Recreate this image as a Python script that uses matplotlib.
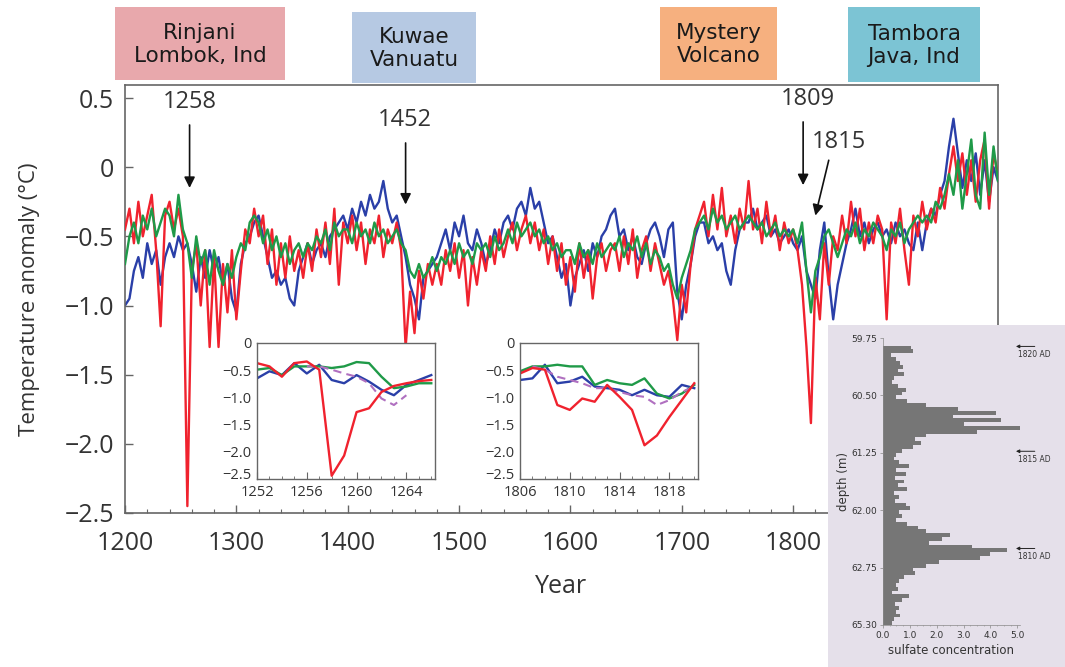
import numpy as np
import matplotlib
matplotlib.use("Agg")
import matplotlib.pyplot as plt
from matplotlib.ticker import MultipleLocator
from matplotlib.patches import Rectangle
from matplotlib.transforms import ScaledTranslation

# ---------------- data ----------------
YEAR_START = 1200
YEAR_STEP = 4

red_vals = [
    -0.45, -0.30, -0.55, -0.25, -0.50, -0.35, -0.20, -0.60, -1.15, -0.35,
    -0.25, -0.45, -0.30, -0.50, -2.45, -0.75, -0.55, -1.00, -0.60, -1.30,
    -0.65, -1.30, -0.70, -1.05, -0.60, -1.10, -0.75, -0.45, -0.55, -0.30,
    -0.50, -0.35, -0.70, -0.45, -0.85, -0.55, -0.80, -0.50, -0.75, -0.60,
    -0.80, -0.55, -0.75, -0.45, -0.65, -0.40, -0.70, -0.30, -0.85, -0.40,
    -0.55, -0.35, -0.60, -0.40, -0.70, -0.45, -0.55, -0.35, -0.65, -0.45,
    -0.55, -0.40, -0.60, -1.30, -0.90, -1.20, -0.75, -0.95, -0.70, -0.85,
    -0.70, -0.85, -0.60, -0.75, -0.55, -0.80, -0.60, -1.00, -0.65, -0.85,
    -0.60, -0.75, -0.50, -0.70, -0.45, -0.65, -0.50, -0.40, -0.60, -0.45,
    -0.35, -0.55, -0.40, -0.60, -0.45, -0.70, -0.50, -0.75, -0.55, -0.85,
    -0.65, -0.90, -0.55, -0.80, -0.60, -0.95, -0.65, -0.55, -0.75, -0.60,
    -0.55, -0.75, -0.50, -0.70, -0.45, -0.80, -0.60, -0.50, -0.75, -0.55,
    -0.70, -0.85, -0.75, -0.95, -1.25, -0.85, -1.05, -0.70, -0.45, -0.35,
    -0.25, -0.50, -0.20, -0.45, -0.15, -0.50, -0.35, -0.55, -0.30, -0.45,
    -0.10, -0.45, -0.30, -0.55, -0.25, -0.50, -0.35, -0.60, -0.40, -0.55,
    -0.45, -0.60, -0.85, -1.30, -1.85, -0.80, -1.10, -0.55, -0.85, -0.50,
    -0.60, -0.35, -0.55, -0.25, -0.50, -0.30, -0.60, -0.40, -0.55, -0.35,
    -0.45, -1.10, -0.40, -0.55, -0.30, -0.60, -0.85, -0.35, -0.50, -0.25,
    -0.45, -0.30, -0.40, -0.15, -0.30, -0.05, 0.15, -0.10, 0.10, -0.20,
    0.05, -0.25, 0.05, 0.20, -0.30, 0.10, -0.05,
]

green_vals = [
    -0.70, -0.50, -0.40, -0.55, -0.35, -0.45, -0.30, -0.50, -0.40, -0.30,
    -0.35, -0.50, -0.20, -0.45, -0.55, -0.80, -0.50, -0.70, -0.60, -0.85,
    -0.60, -0.75, -0.85, -0.70, -0.80, -0.65, -0.55, -0.60, -0.40, -0.35,
    -0.40, -0.55, -0.45, -0.60, -0.50, -0.65, -0.55, -0.70, -0.60, -0.55,
    -0.65, -0.55, -0.60, -0.50, -0.55, -0.45, -0.60, -0.40, -0.50, -0.45,
    -0.45, -0.55, -0.40, -0.50, -0.45, -0.55, -0.40, -0.50, -0.45, -0.55,
    -0.50, -0.45, -0.55, -0.60, -0.75, -0.80, -0.70, -0.80, -0.75, -0.65,
    -0.75, -0.65, -0.70, -0.60, -0.70, -0.55, -0.65, -0.60, -0.70, -0.55,
    -0.60, -0.55, -0.65, -0.50, -0.60, -0.55, -0.45, -0.55, -0.40, -0.50,
    -0.45, -0.40, -0.50, -0.45, -0.55, -0.50, -0.60, -0.55, -0.65, -0.60,
    -0.60, -0.70, -0.55, -0.65, -0.60, -0.70, -0.55, -0.65, -0.60, -0.55,
    -0.60, -0.50, -0.65, -0.55, -0.60, -0.50, -0.65, -0.55, -0.70, -0.60,
    -0.65, -0.75, -0.70, -0.85, -0.95, -0.80, -0.70, -0.60, -0.45, -0.40,
    -0.35, -0.45, -0.30, -0.40, -0.35, -0.45, -0.40, -0.35, -0.45, -0.40,
    -0.35, -0.40, -0.45, -0.40, -0.50, -0.45, -0.40, -0.50, -0.45, -0.50,
    -0.45, -0.55, -0.40, -0.75, -1.05, -0.75, -0.65, -0.50, -0.45, -0.55,
    -0.65, -0.55, -0.45, -0.50, -0.40, -0.55, -0.45, -0.50, -0.40, -0.45,
    -0.50, -0.60, -0.45, -0.50, -0.40, -0.55, -0.45, -0.40, -0.35, -0.40,
    -0.35, -0.40, -0.25, -0.30, -0.20, -0.05, -0.20, 0.05, -0.30, -0.05,
    0.20, -0.20, -0.30, 0.25, -0.20, 0.15, -0.10,
]

blue_vals = [
    -1.00, -0.95, -0.75, -0.65, -0.80, -0.55, -0.70, -0.60, -0.85, -0.65,
    -0.55, -0.65, -0.50, -0.60, -0.55, -0.70, -0.90, -0.65, -0.80, -0.60,
    -0.75, -0.65, -0.85, -0.70, -0.95, -1.05, -0.70, -0.55, -0.50, -0.40,
    -0.35, -0.50, -0.65, -0.80, -0.75, -0.85, -0.80, -0.95, -1.00, -0.75,
    -0.65, -0.55, -0.70, -0.60, -0.55, -0.65, -0.50, -0.45, -0.40, -0.35,
    -0.45, -0.30, -0.40, -0.25, -0.35, -0.20, -0.30, -0.25, -0.10, -0.30,
    -0.40, -0.35, -0.50, -0.65, -0.85, -0.95, -1.10, -0.80, -0.75, -0.70,
    -0.65, -0.55, -0.45, -0.60, -0.40, -0.50, -0.35, -0.55, -0.60, -0.45,
    -0.55, -0.70, -0.60, -0.45, -0.55, -0.40, -0.35, -0.45, -0.30, -0.25,
    -0.35, -0.15, -0.30, -0.25, -0.40, -0.55, -0.50, -0.65, -0.80, -0.70,
    -1.00, -0.80, -0.70, -0.60, -0.75, -0.55, -0.65, -0.50, -0.45, -0.35,
    -0.30, -0.50, -0.45, -0.60, -0.50, -0.65, -0.70, -0.55, -0.45, -0.40,
    -0.50, -0.65, -0.45, -0.40, -0.90, -1.10, -0.85, -0.70, -0.50, -0.40,
    -0.40, -0.55, -0.50, -0.60, -0.55, -0.75, -0.85, -0.60, -0.45, -0.40,
    -0.40, -0.30, -0.45, -0.40, -0.35, -0.50, -0.45, -0.55, -0.50, -0.45,
    -0.55, -0.60, -0.50, -0.75, -0.85, -0.95, -0.60, -0.40, -0.80, -1.10,
    -0.85, -0.70, -0.55, -0.45, -0.30, -0.50, -0.40, -0.55, -0.45, -0.40,
    -0.50, -0.45, -0.55, -0.40, -0.50, -0.45, -0.55, -0.60, -0.40, -0.60,
    -0.40, -0.30, -0.35, -0.20, -0.10, 0.15, 0.35, 0.10, -0.15, 0.05,
    -0.10, 0.10, -0.20, 0.05, -0.25, 0.00, -0.10,
]

x_ticks = [1200, 1300, 1400, 1500, 1600, 1700, 1800]
y_ticks = [0.5, 0, -0.5, -1.0, -1.5, -2.0, -2.5]
y_tick_labels = ["0.5", "0", "\u22120.5", "\u22121.0", "\u22121.5", "\u22122.0", "\u22122.5"]

# event annotations
events = ["1258", "1452", "1809", "1815"]

# volcano labels
volcano_labels = ["Rinjani\nLombok, Ind", "Kuwae\nVanuatu", "Mystery\nVolcano", "Tambora\nJava, Ind"]
volcano_colors = ["#e8a8ac", "#b6c9e3", "#f6b07f", "#7cc4d4"]

# inset 1 (1258 eruption)
inset1_years = [1252, 1253, 1254, 1255, 1256, 1257, 1258, 1259, 1260, 1261, 1262, 1263, 1264, 1265, 1266]
inset1_red = [-0.37, -0.43, -0.62, -0.37, -0.34, -0.49, -2.44, -2.07, -1.27, -1.20, -0.90, -0.79, -0.74, -0.70, -0.68]
inset1_green = [-0.49, -0.46, -0.59, -0.43, -0.43, -0.43, -0.46, -0.43, -0.35, -0.37, -0.62, -0.83, -0.80, -0.74, -0.74]
inset1_blue = [-0.65, -0.52, -0.59, -0.37, -0.56, -0.40, -0.68, -0.74, -0.59, -0.71, -0.86, -0.96, -0.77, -0.68, -0.59]
inset1_dash_years = [1256, 1257, 1258, 1259, 1260, 1261, 1262, 1263, 1264]
inset1_dash = [-0.43, -0.43, -0.49, -0.56, -0.62, -0.74, -1.02, -1.14, -0.96]

# inset 2 (1809 / 1815 eruptions)
inset2_years = [1806, 1807, 1808, 1809, 1810, 1811, 1812, 1813, 1814, 1815, 1816, 1817, 1818, 1819, 1820]
inset2_red = [-0.56, -0.46, -0.49, -1.14, -1.23, -1.02, -1.08, -0.77, -0.99, -1.23, -1.88, -1.70, -1.36, -1.05, -0.74]
inset2_green = [-0.52, -0.43, -0.43, -0.40, -0.43, -0.43, -0.77, -0.68, -0.74, -0.77, -0.65, -0.93, -1.02, -0.93, -0.77]
inset2_blue = [-0.68, -0.65, -0.40, -0.74, -0.71, -0.62, -0.80, -0.83, -0.86, -0.96, -0.86, -0.96, -0.99, -0.77, -0.83]
inset2_dash_years = [1807, 1808, 1809, 1810, 1811, 1812, 1813, 1814, 1815, 1816, 1817, 1818, 1819, 1820]
inset2_dash = [-0.43, -0.49, -0.62, -0.68, -0.74, -0.83, -0.83, -0.90, -0.96, -0.99, -1.14, -1.05, -0.90, -0.80]

inset_y_ticks = [0, -0.5, -1.0, -1.5, -2.0, -2.5]
inset_y_labels = ["0", "\u22120.5", "\u22121.0", "\u22121.5", "\u22122.0", "\u22122.5"]
inset1_x_ticks = [1252, 1256, 1260, 1264]
inset2_x_ticks = [1806, 1810, 1814, 1818]

# sulfate ice-core profile
DEPTH_START = 59.875
DEPTH_STEP = 0.05
sulfate_conc = [
    1.05, 1.10, 0.30, 0.50, 0.65, 0.75, 0.55, 0.80, 0.40, 0.35,
    0.55, 0.85, 0.70, 0.50, 0.90, 1.60, 2.80, 4.20, 2.60, 4.40,
    3.00, 5.10, 3.50, 1.60, 1.20, 1.40, 1.10, 0.70, 0.50, 0.40,
    0.60, 0.95, 0.50, 0.85, 0.45, 0.80, 0.55, 0.90, 0.40, 0.60,
    0.45, 0.85, 1.00, 0.60, 0.70, 0.50, 0.90, 1.30, 1.60, 2.50,
    2.20, 1.70, 3.30, 4.60, 4.00, 3.60, 2.10, 1.60, 1.10, 1.20,
    0.80, 0.60, 0.50, 0.55, 0.35, 0.95, 0.70, 0.45, 0.60, 0.50,
    0.65, 0.40, 0.35,
]
depth_ticks = [59.75, 60.50, 61.25, 62.00, 62.75, 63.50]
depth_tick_labels = ["59.75", "60.50", "61.25", "62.00", "62.75", "65.30"]
conc_ticks = [0, 1, 2, 3, 4, 5]
conc_tick_labels = ["0.0", "1.0", "2.0", "3.0", "4.0", "5.0"]
sulfate_marks = ["1820 AD", "1815 AD", "1810 AD"]
sulfate_mark_depths = [59.86, 61.23, 62.50]

RED = "#f0222e"
GREEN = "#1f9a48"
BLUE = "#2a3fa8"
PURPLE = "#b070c0"
TXT = "#333333"
SPINE = "#666666"

assert len(red_vals) == len(green_vals) == len(blue_vals)

# ---------------- figure ----------------
W, H = 1065, 667
fig = plt.figure(figsize=(W / 100, H / 100), dpi=100)
fig.patch.set_facecolor("white")


def fx(px):
    return px / W


def fy(py):
    return 1 - py / H


FONT = "Open Sans"

ax = fig.add_axes([fx(125), fy(513), fx(998) - fx(125), fy(85) - fy(513)])
years = np.arange(YEAR_START, YEAR_START + YEAR_STEP * len(red_vals), YEAR_STEP)
ax.plot(years, blue_vals, color=BLUE, lw=1.7, zorder=2)
ax.plot(years, red_vals, color=RED, lw=1.7, zorder=3)
ax.plot(years, green_vals, color=GREEN, lw=1.7, zorder=4)
ax.set_xlim(1200, 1984)
ax.set_ylim(-2.5, 0.594)
ax.set_xticks(x_ticks)
ax.set_xticklabels([str(t) for t in x_ticks], fontfamily=FONT, fontsize=18, color=TXT)
ax.xaxis.set_minor_locator(MultipleLocator(20))
ax.set_yticks(y_ticks)
ax.set_yticklabels(y_tick_labels, fontfamily=FONT, fontsize=18, color=TXT)
ax.tick_params(axis="both", which="major", direction="in", length=6, width=1.0, color=SPINE)
ax.tick_params(axis="x", which="major", pad=13)
ax.tick_params(axis="y", which="major", pad=8)
ax.tick_params(axis="x", which="minor", direction="in", length=3, width=0.8, color=SPINE)
for s in ax.spines.values():
    s.set_color(SPINE)
    s.set_linewidth(1.2)
ax.set_xlabel("Year", fontfamily=FONT, fontsize=18, color=TXT)
ax.xaxis.set_label_coords(0.5, -0.143)
ax.set_ylabel("Temperature anomaly (\u00b0C)", fontfamily=FONT, fontsize=16, color=TXT)
ax.yaxis.set_label_coords(-0.097, 0.5)

# event arrows
arrow_kw = dict(arrowstyle="-|>", color="#111111", lw=1.2, mutation_scale=16, shrinkA=0, shrinkB=0)
ax.annotate("", xy=(1258, -0.15), xytext=(1258, 0.305), arrowprops=arrow_kw, zorder=6)
ax.text(1258, 0.47, events[0], ha="center", va="center", fontfamily=FONT, fontsize=17, color=TXT)
ax.annotate("", xy=(1452, -0.27), xytext=(1452, 0.175), arrowprops=arrow_kw, zorder=6)
ax.text(1451, 0.34, events[1], ha="center", va="center", fontfamily=FONT, fontsize=17, color=TXT)
ax.annotate("", xy=(1809, -0.13), xytext=(1809, 0.327), arrowprops=arrow_kw, zorder=6)
ax.text(1813, 0.49, events[2], ha="center", va="center", fontfamily=FONT, fontsize=17, color=TXT)
ax.annotate("", xy=(1820, -0.35), xytext=(1832, 0.05), arrowprops=arrow_kw, zorder=6)
ax.text(1841, 0.18, events[3], ha="center", va="center", fontfamily=FONT, fontsize=17, color=TXT)

# volcano label boxes (figure pixel layout)
boxes = [(115, 7, 285, 80), (352, 12, 476, 83), (660, 7, 777, 80), (848, 7, 980, 82)]
for (x0, y0, x1, y1), lab, col in zip(boxes, volcano_labels, volcano_colors):
    fig.patches.append(Rectangle((fx(x0), fy(y1)), fx(x1) - fx(x0), fy(y0) - fy(y1),
                                 transform=fig.transFigure, facecolor=col, edgecolor="none", zorder=5))
    fig.text(fx((x0 + x1) / 2), fy((y0 + y1) / 2 + 1), lab, ha="center", va="center",
             fontsize=15.5, fontfamily="DejaVu Sans", color="#1a1a1a", linespacing=1.15, zorder=6)


def style_inset(a, xt, xlim):
    a.set_xlim(*xlim)
    a.set_ylim(-2.5, 0)
    a.set_xticks(xt)
    a.set_xticklabels([str(t) for t in xt], fontfamily=FONT, fontsize=10.5, color=TXT)
    a.xaxis.set_minor_locator(MultipleLocator(1))
    a.set_yticks(inset_y_ticks)
    a.set_yticklabels(inset_y_labels, fontfamily=FONT, fontsize=10.5, color=TXT)
    a.tick_params(axis="x", which="major", direction="in", length=5, width=0.8, color=SPINE, pad=4)
    a.tick_params(axis="x", which="minor", direction="in", length=2.5, width=0.6, color=SPINE)
    a.tick_params(axis="y", which="major", direction="in", length=0, pad=4)
    # lift the lowest y label slightly so it clears the first year label
    low = a.get_yticklabels()[-1]
    low.set_transform(low.get_transform() + ScaledTranslation(0, 4 / 72, fig.dpi_scale_trans))
    for s in a.spines.values():
        s.set_color(SPINE)
        s.set_linewidth(1.0)
    a.set_facecolor("white")


ins1 = fig.add_axes([fx(257), fy(479), fx(435) - fx(257), fy(343) - fy(479)], zorder=5)
ins1.plot(inset1_years, inset1_blue, color=BLUE, lw=1.7)
ins1.plot(inset1_years, inset1_green, color=GREEN, lw=1.7)
ins1.plot(inset1_dash_years, inset1_dash, color=PURPLE, lw=1.5, ls=(0, (4, 2.5)))
ins1.plot(inset1_years, inset1_red, color=RED, lw=1.7)
style_inset(ins1, inset1_x_ticks, (1252, 1266.3))

ins2 = fig.add_axes([fx(520), fy(479), fx(698) - fx(520), fy(343) - fy(479)], zorder=5)
ins2.plot(inset2_years, inset2_blue, color=BLUE, lw=1.7)
ins2.plot(inset2_years, inset2_green, color=GREEN, lw=1.7)
ins2.plot(inset2_dash_years, inset2_dash, color=PURPLE, lw=1.5, ls=(0, (4, 2.5)))
ins2.plot(inset2_years, inset2_red, color=RED, lw=1.7)
style_inset(ins2, inset2_x_ticks, (1806, 1820.3))

# sulfate panel background
bg = fig.add_axes([fx(828), fy(667), fx(1065) - fx(828), fy(325) - fy(667)], zorder=6)
bg.set_facecolor("#e5e0ea")
bg.set_xticks([])
bg.set_yticks([])
for s in bg.spines.values():
    s.set_visible(False)

sax = fig.add_axes([fx(883), fy(625), fx(1020) - fx(883), fy(338) - fy(625)], zorder=7)
sax.set_facecolor("none")
depths = DEPTH_START + DEPTH_STEP * np.arange(len(sulfate_conc))
sax.barh(depths, sulfate_conc, height=DEPTH_STEP, color="#767676", edgecolor="none")
sax.set_xlim(0, 5.1)
sax.set_ylim(63.5, 59.75)
sax.set_xticks(conc_ticks)
sax.set_xticklabels(conc_tick_labels, fontsize=6.5, color=TXT)
sax.xaxis.set_minor_locator(MultipleLocator(0.25))
sax.set_yticks(depth_ticks)
sax.set_yticklabels(depth_tick_labels, fontsize=6.5, color=TXT)
sax.tick_params(axis="both", which="major", direction="out", length=2, width=0.5, color="#888888", pad=2)
sax.tick_params(axis="x", which="minor", direction="out", length=1, width=0.4, color="#888888")
for k in ["top", "right"]:
    sax.spines[k].set_visible(False)
for k in ["left", "bottom"]:
    sax.spines[k].set_color("#888888")
    sax.spines[k].set_linewidth(0.5)
sax.set_xlabel("sulfate concentration", fontsize=8.5, color=TXT, labelpad=3)
sax.set_ylabel("depth (m)", fontsize=8.5, color=TXT, labelpad=1)
for lab, d in zip(sulfate_marks, sulfate_mark_depths):
    sax.annotate("", xy=(4.95, d), xytext=(5.65, d),
                 arrowprops=dict(arrowstyle="-|>", color="#222222", lw=0.7, mutation_scale=5,
                                 shrinkA=0, shrinkB=0), annotation_clip=False)
    sax.text(5.65, d + 0.11, lab, ha="center", va="center", fontsize=5.5, color=TXT, clip_on=False)

fig.savefig("out.png", dpi=100)
